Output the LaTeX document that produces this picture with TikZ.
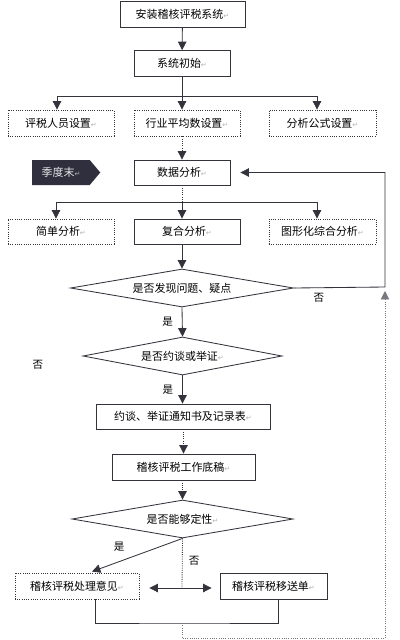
\documentclass[tikz,border=0pt]{standalone}
\usepackage{fontspec}
\setmainfont{Noto Sans CJK SC}
\newfontfamily\symfont{DejaVu Sans}
\usetikzlibrary{shapes.geometric,shapes.symbols,arrows.meta,positioning,calc}
\definecolor{linecolor}{RGB}{51,51,60}
\definecolor{seasoncolor}{RGB}{47,47,62}
\definecolor{loopcolor}{RGB}{120,120,128}
\newcommand{\ret}{{\symfont\fontsize{5pt}{5pt}\selectfont\textcolor{gray!60}{↵}}}

\begin{document}
\begin{tikzpicture}[
    x=0.025cm, y=-0.025cm,
    font=\fontsize{7.8pt}{9pt}\selectfont,
    box/.style={rectangle, draw=linecolor, line width=0.6pt, minimum width=2.65cm, minimum height=0.65cm, inner sep=1pt, text=black},
    dbox/.style={box, densely dotted},
    decision/.style={diamond, draw=linecolor, line width=0.6pt, aspect=5.8, inner sep=0pt, minimum height=0.95cm, text=black},
    season/.style={signal, signal to=east, signal pointer angle=100, fill=seasoncolor, text=white!90!black, minimum width=1.7cm, minimum height=0.625cm, inner sep=1pt},
    answer/.style={font=\fontsize{7.5pt}{9pt}\selectfont, text=black},
    line/.style={draw=linecolor, line width=0.6pt},
    arrow/.style={line, -{Triangle[length=6pt,width=6pt]}},
    loopline/.style={draw=loopcolor, line width=0.6pt, densely dotted}
]
\useasboundingbox (0,0) rectangle (400,640);

% Setup
\node[box, minimum width=3.125cm] (install) at (182.5,14) {安装稽核评税系统\ret};
\node[box, minimum width=2.4cm] (init) at (182,63.5) {系统初始\ret};

% Settings
\node[dbox] (staff) at (61,123) {评税人员设置\ret};
\node[dbox] (average) at (187,123) {行业平均数设置\ret};
\node[dbox, minimum width=2.675cm] (formula) at (322.5,123) {分析公式设置\ret};

% Analysis
\node[box, minimum width=2.4cm, minimum height=0.625cm] (analysis) at (182,172.5) {数据分析\ret};
\node[season] (season) at (61,172.5) {季度末\ret};
\node[dbox, minimum height=0.625cm] (simple) at (61,231.5) {简单分析\ret};
\node[box, minimum height=0.625cm] (compound) at (187,231.5) {复合分析\ret};
\node[dbox, minimum width=2.675cm, minimum height=0.625cm] (graphic) at (322.5,231.5) {图形化综合分析\ret};

% Checks
\node[decision, minimum width=5.575cm] (problem) at (182,288) {是否发现问题、疑点};
\node[decision, minimum width=4.975cm] (interview) at (182.5,356) {是否约谈或举证\ret};
\node[box, minimum width=4.35cm, minimum height=0.625cm] (notice) at (183,416.5) {约谈、举证通知书及记录表\ret};
\node[box, minimum width=3.575cm] (draft) at (183.5,467) {稽核评税工作底稿\ret};
\node[decision, minimum width=5.525cm] (qualify) at (182.5,519) {是否能够定性\ret};

% Results
\node[dbox, minimum width=3.1cm] (opinion) at (77,586) {稽核评税处理意见\ret};
\node[box, minimum width=2.675cm] (transfer) at (273.5,586) {稽核评税移送单\ret};
\node[answer] (noside) at (38,365) {否};

% Junctions
\coordinate (fork1) at (182,96);
\coordinate (fork2) at (182,202);
\coordinate (split) at (182,588);
\coordinate (join) at (182,623);
\coordinate (loopbottom) at (385,638);
\coordinate (loopcorner) at (385,287);

% Arrows
\draw[arrow] (install) -- (init);
\draw[line] (init) -- (fork1);
\draw[arrow] (fork1) -| ($(staff.north)+(-4,0)$);
\draw[arrow] (fork1) -- (fork1 |- average.north);
\draw[arrow] (fork1) -| ($(formula.north)+(-5.5,0)$);
\draw[arrow, densely dotted] (analysis |- average.south) -- (analysis.north);

\draw[line, densely dotted] (analysis) -- (fork2);
\draw[arrow] (fork2) -| ($(simple.north)+(-5,0)$);
\draw[arrow] (fork2) -- (fork2 |- compound.north);
\draw[arrow] (fork2) -| ($(graphic.north)+(-5.5,0)$);
\draw[arrow] (problem |- compound.south) -- (problem.north);

\draw[arrow] (problem.south) -- (interview.north) node[answer, midway, left=3pt] {是};
\draw[arrow] (interview.south) -- (interview.south |- notice.north) node[answer, midway, left=3pt] {是};
\draw[arrow, densely dotted] (draft |- notice.south) -- (draft.north);
\draw[arrow, densely dotted] (qualify |- draft.south) -- (qualify.north);

% Back to analysis
\draw[arrow] (problem.east) -- (loopcorner) -- (loopcorner |- analysis) -- ($(analysis.east)+(10,0)$);
\node[answer] (nofound) at (319,298) {否};

% Outcomes
\draw[arrow] (qualify.south) -- ($(opinion.north)+(15,-1)$) node[answer, pos=0.7, above=4pt] {是};
\draw[line, densely dotted] (qualify.south) -- (split) node[answer, pos=0.45, right=1pt] {否};
\draw[arrow] (split) -- ($(split -| opinion.east)+(10,0)$);
\draw[arrow] (split) -- ($(split -| transfer.west)+(-8,0)$);
\draw[line] ($(opinion.south)+(18,0)$) |- (join) -| ($(transfer.south)+(4.5,0)$);
\draw[loopline, -{Triangle[length=6pt,width=6pt]}] (join) -- (join |- loopbottom) -- (loopbottom) -- ($(loopcorner)+(0,4)$);

\end{tikzpicture}
\end{document}
